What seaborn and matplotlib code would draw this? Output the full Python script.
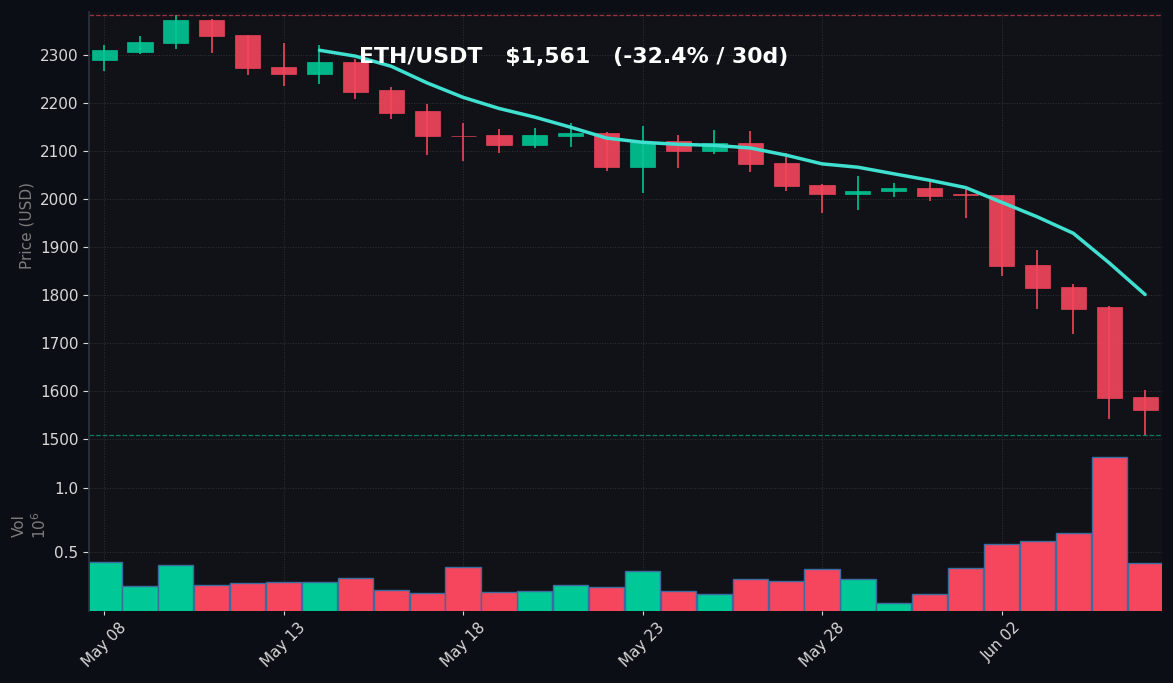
import numpy as np
import pandas as pd
import seaborn as sns
import matplotlib.pyplot as plt

# Daily ETH/USDT candles, 30 days
dates = pd.date_range("2023-05-08", periods=30, freq="D")
opens = [2291, 2307, 2326, 2374, 2343, 2276, 2260, 2285, 2227, 2183,
         2132, 2133, 2112, 2131, 2137, 2066, 2121, 2101, 2116, 2076,
         2029, 2011, 2016, 2024, 2011, 2009, 1862, 1816, 1774, 1587]
closes = [2310, 2328, 2374, 2341, 2274, 2260, 2285, 2224, 2180, 2131,
          2131, 2112, 2133, 2137, 2066, 2119, 2101, 2116, 2074, 2028,
          2010, 2017, 2023, 2007, 2009, 1860, 1814, 1771, 1585, 1561]
highs = [2322, 2340, 2383, 2375, 2343, 2325, 2321, 2293, 2233, 2199,
         2158, 2147, 2149, 2158, 2140, 2152, 2133, 2144, 2142, 2096,
         2031, 2048, 2034, 2036, 2020, 2009, 1894, 1823, 1777, 1602]
lows = [2267, 2303, 2313, 2305, 2259, 2236, 2240, 2208, 2166, 2092,
        2080, 2097, 2106, 2108, 2059, 2012, 2065, 2094, 2057, 2017,
        1970, 1978, 2005, 1996, 1960, 1840, 1771, 1719, 1542, 1508]
# volume in millions
volumes = [0.422, 0.237, 0.398, 0.245, 0.258, 0.265, 0.265, 0.297, 0.203, 0.180,
           0.385, 0.193, 0.195, 0.242, 0.229, 0.351, 0.201, 0.172, 0.289, 0.273,
           0.367, 0.289, 0.101, 0.172, 0.375, 0.562, 0.586, 0.648, 1.247, 0.414]

GREEN = "#00c896"
RED = "#f6465d"
FIG_BG = "#0b0e14"
AX_BG = "#111217"

df = pd.DataFrame({"idx": np.arange(len(dates)), "open": opens, "close": closes,
                   "high": highs, "low": lows, "vol": volumes})
df["dir"] = np.where(df["close"] >= df["open"], "up", "down")
df["ma7"] = df["close"].rolling(7).mean()

sns.set_theme(style="dark")
plt.rcParams["font.family"] = ["DejaVu Sans"]

fig = plt.figure(figsize=(11.73, 6.83), dpi=100, facecolor=FIG_BG)
gs = fig.add_gridspec(2, 1, height_ratios=[2.5, 1], hspace=0,
                      left=0.0759, right=0.9906, top=0.9824, bottom=0.1054)
ax = fig.add_subplot(gs[0])
axv = fig.add_subplot(gs[1], sharex=ax)

# candles
colors = [GREEN if d == "up" else RED for d in df["dir"]]
ax.vlines(df["idx"], df["low"], df["high"], colors=colors, lw=1.3, alpha=0.9, zorder=2)
body_lo = np.minimum(df["open"], df["close"])
body_h = np.maximum(np.abs(df["close"] - df["open"]), 1.5)
ax.bar(df["idx"], body_h, bottom=body_lo, width=0.7, color=colors, alpha=0.9,
       edgecolor=colors, linewidth=0.5, zorder=3)

# 7-day moving average
sns.lineplot(data=df, x="idx", y="ma7", ax=ax, color="#40e0d0", lw=2.5, zorder=4)

# 30d high / low markers
ax.axhline(max(highs), color=RED, ls="--", lw=0.9, alpha=0.6)
ax.axhline(min(lows), color=GREEN, ls="--", lw=0.9, alpha=0.6)

chg = (closes[-1] - closes[0]) / closes[0] * 100
ax.text(0.252, 0.918, f"ETH/USDT   ${closes[-1]:,}   ({chg:.1f}% / 30d)",
        transform=ax.transAxes, color="white", fontsize=15.8, fontweight="bold",
        ha="left", va="top", zorder=5)

# volume
sns.barplot(data=df, x="idx", y="vol", hue="dir", palette={"up": GREEN, "down": RED},
            native_scale=True, dodge=False, width=0.98, saturation=1,
            edgecolor="#3d6b9e", linewidth=1, legend=False, ax=axv, zorder=2)

for a in (ax, axv):
    a.set_facecolor(AX_BG)
    a.grid(True, color="#3a3a3a", ls=":", lw=0.7, alpha=0.8)
    a.set_axisbelow(True)
    for s in ("top", "right", "bottom"):
        a.spines[s].set_visible(False)
    a.spines["left"].set_color("#2c313c")
    a.tick_params(colors="#d8d8d8", labelsize=11, length=4, width=0.8, left=True, bottom=True)

ax.set_ylim(1498, 2390)
ax.set_yticks(range(1500, 2301, 100))
ax.set_ylabel("Price (USD)", color="#7c7c7c", fontsize=11)
ax.set_xlabel("")
ax.tick_params(axis="x", bottom=False, labelbottom=False)

axv.set_ylim(0.042, 1.378)
axv.set_yticks([0.5, 1.0])
axv.set_yticklabels(["0.5", "1.0"])
axv.set_ylabel("Vol\n$10^{6}$", color="#7c7c7c", fontsize=11)
axv.set_xlabel("")
tick_pos = list(range(0, 30, 5))
axv.set_xlim(-0.42, 29.47)
axv.set_xticks(tick_pos)
axv.set_xticklabels([dates[i].strftime("%b %d") for i in tick_pos], rotation=45)
axv.tick_params(axis="x", length=3)

fig.savefig("out.png", dpi=100, facecolor=FIG_BG)
